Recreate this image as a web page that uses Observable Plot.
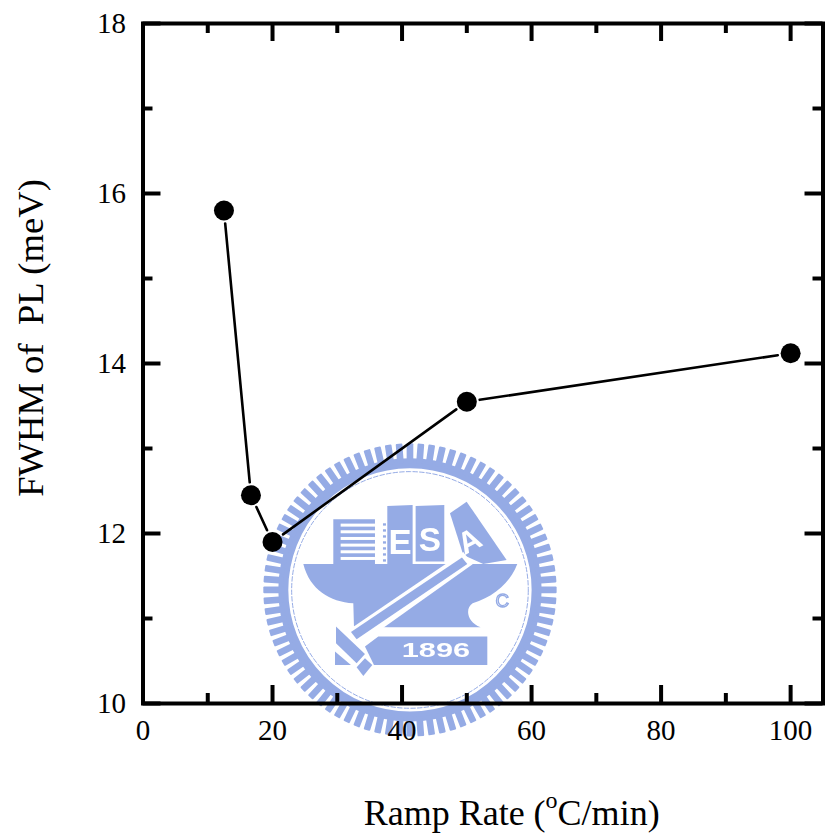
<!DOCTYPE html>
<html>
<head>
<meta charset="utf-8">
<style>html,body{margin:0;padding:0;background:#fff}svg{display:block}</style>
<script src="https://cdn.jsdelivr.net/npm/d3@7"></script>
<script src="https://cdn.jsdelivr.net/npm/@observablehq/plot@0.6"></script>
</head>
<body>
<div id="chart"></div>
<script>
const rampRate = [12.5, 16.67, 20, 50, 100];
const fwhm = [15.8, 12.45, 11.9, 13.55, 14.12];
const xMajor = [0, 20, 40, 60, 80, 100];
const xMinor = [10, 30, 50, 70, 90];
const yMajor = [10, 12, 14, 16, 18];
const yMinor = [11, 13, 15, 17];
const points = rampRate.map((x, i) => ({x, y: fwhm[i]}));
const segments = d3.pairs(points);

const serif = "'Liberation Serif', 'Times New Roman', serif";
const logoColor = "#95abe5";
const xDomain = [0, 105], yDomain = [10, 18];
const xMaj = 18 / 6.48, xMin = 10 / 6.48, yMaj = 18 / 85, yMin = 10 / 85;

// Watermark seal, drawn behind the chart in its own local units.
function seal(index, {x, y}) {
  const g = d3.create("svg:g")
    .attr("transform", `translate(${x(41.3)},${y(11.33)}) scale(0.3333) translate(-480,-480)`)
    .attr("filter", "url(#sealBlur)");
  const defs = g.append("defs");
  defs.append("filter").attr("id", "sealBlur").attr("x", "-5%").attr("y", "-5%").attr("width", "110%").attr("height", "110%")
    .append("feGaussianBlur").attr("stdDeviation", 2.2);
  const c = logoColor;
  const ring = g.append("g").attr("fill", "none").attr("stroke", c);
  ring.append("circle").attr("cx", 480).attr("cy", 480).attr("r", 380).attr("stroke-width", 30);
  ring.append("circle").attr("cx", 480).attr("cy", 480).attr("r", 355).attr("stroke-width", 3).attr("stroke-dasharray", "16 4");
  const teeth = 84;
  d3.range(teeth).forEach(i => {
    const a = i * 360 / teeth;
    g.append("rect").attr("x", 470).attr("y", 40).attr("width", 20).attr("height", 60).attr("rx", 3)
      .attr("fill", c).attr("transform", `rotate(${a} 480 480)`);
  });
  const poly = (d, fill = c) => g.append("path").attr("d", d).attr("fill", fill);
  // hull
  poly("M160,402 L802,402 C780,460 730,500 668,520 C645,535 650,575 692,592 L415,592 L312,590 L310,520 C240,515 180,480 160,402 Z");
  // books
  poly("M250,268 L375,268 L375,402 L250,402 Z");
  [285,305,325,345,365,385].forEach(yy => g.append("rect").attr("x",272).attr("y",yy-4).attr("width",103).attr("height",9).attr("fill","#fff"));
  d3.range(280, 400, 18).forEach(yy => g.append("rect").attr("x",399).attr("y",yy).attr("width",9).attr("height",7).attr("fill",c));
  poly("M412,228 L488,225 L488,402 L412,402 Z");
  poly("M497,228 L583,225 L583,395 L497,395 Z");
  poly("M600,250 L650,215 L770,390 L700,402 L640,375 Z");
  const letter = (t, xx, yy, s, rot = 0) => g.append("text").text(t)
    .attr("transform", `translate(${xx},${yy}) rotate(${rot})`).attr("text-anchor","middle")
    .attr("fill","#fff").attr("font-family","'Liberation Sans', sans-serif").attr("font-weight","bold").attr("font-size",s);
  letter("E", 450, 372, 104);
  letter("S", 540, 364, 100);
  letter("A", 673, 360, 92, -28);
  // white band and hammer
  poly("M640,366 L668,403 L335,640 L296,600 Z", "#fff");
  poly("M636,383 L652,402 L320,628 L303,606 Z");
  poly("M258,590 L345,672 L320,700 L258,640 Z");
  poly("M385,620 L712,620 L712,705 L372,705 L345,650 Z");
  poly("M255,665 L303,705 L255,705 Z");
  poly("M320,712 L345,685 L367,705 L340,738 Z");
  g.append("text").text("1896").attr("x", 558).attr("y", 682).attr("text-anchor","middle")
    .attr("fill","#fff").attr("font-family","'Liberation Sans', sans-serif").attr("font-weight","bold")
    .attr("font-size",58).attr("textLength",205).attr("lengthAdjust","spacingAndGlyphs");
  g.append("text").text("C").attr("x", 757).attr("y", 530).attr("text-anchor","middle")
    .attr("fill","none").attr("stroke",c).attr("stroke-width",4).attr("font-family","'Liberation Sans', sans-serif").attr("font-size",56);
  return g.node();
}

// x-axis title with a real superscript
function xTitle(index, {x, y}) {
  const t = d3.create("svg:text")
    .attr("x", x(57) ).attr("y", y(10) + 122)
    .attr("text-anchor", "middle").attr("font-family", serif).attr("font-size", 36).attr("fill", "#000");
  t.append("tspan").text("Ramp Rate (");
  t.append("tspan").text("o").attr("font-size", 24).attr("dy", -17);
  t.append("tspan").text("C/min)").attr("dy", 17);
  return t.node();
}

const chart = Plot.plot({
  width: 825,
  height: 837,
  marginLeft: 142.5,
  marginRight: 2.5,
  marginTop: 23,
  marginBottom: 134,
  style: {background: "#fff", fontFamily: serif, color: "#000"},
  x: {domain: xDomain, label: null},
  y: {domain: yDomain, label: null},
  marks: [
    seal,
    // inward ticks, bottom and top
    Plot.ruleX(xMajor, {y1: 10, y2: 10 + yMaj, strokeWidth: 4, stroke: "#000"}),
    Plot.ruleX(xMinor, {y1: 10, y2: 10 + yMin, strokeWidth: 4, stroke: "#000"}),
    Plot.ruleX(xMajor, {y1: 18, y2: 18 - yMaj, strokeWidth: 4, stroke: "#000"}),
    Plot.ruleX(xMinor, {y1: 18, y2: 18 - yMin, strokeWidth: 4, stroke: "#000"}),
    // inward ticks, left and right
    Plot.ruleY(yMajor, {x1: 0, x2: xMaj, strokeWidth: 4, stroke: "#000"}),
    Plot.ruleY(yMinor, {x1: 0, x2: xMin, strokeWidth: 4, stroke: "#000"}),
    Plot.ruleY(yMajor, {x1: 105, x2: 105 - xMaj, strokeWidth: 4, stroke: "#000"}),
    Plot.ruleY(yMinor, {x1: 105, x2: 105 - xMin, strokeWidth: 4, stroke: "#000"}),
    Plot.frame({stroke: "#000", strokeWidth: 4}),
    Plot.axisX({ticks: xMajor, tickSize: 0, tickPadding: 16, fontSize: 29, label: null, tickFormat: d => String(d), anchor: "bottom", fontFamily: serif}),
    Plot.axisY({ticks: yMajor, tickSize: 0, tickPadding: 17, fontSize: 29, label: null, tickFormat: d => String(d), anchor: "left", fontFamily: serif}),
    Plot.arrow(segments, {
      x1: d => d[0].x, y1: d => d[0].y, x2: d => d[1].x, y2: d => d[1].y,
      headLength: 0, insetStart: 13, insetEnd: 13, strokeWidth: 2.6, stroke: "#000"
    }),
    Plot.dot(points, {x: "x", y: "y", r: 10, fill: "#000", stroke: "none"}),
    xTitle,
    Plot.text(["FWHM of  PL (meV)"], {
      frameAnchor: "middle", x: 0, y: 14.3, dx: -112, rotate: -90,
      fontSize: 36.6, fontFamily: serif, fill: "#000", text: d => d, lineAnchor: "middle"
    })
  ]
});
document.getElementById("chart").append(chart);
</script>
</body>
</html>
